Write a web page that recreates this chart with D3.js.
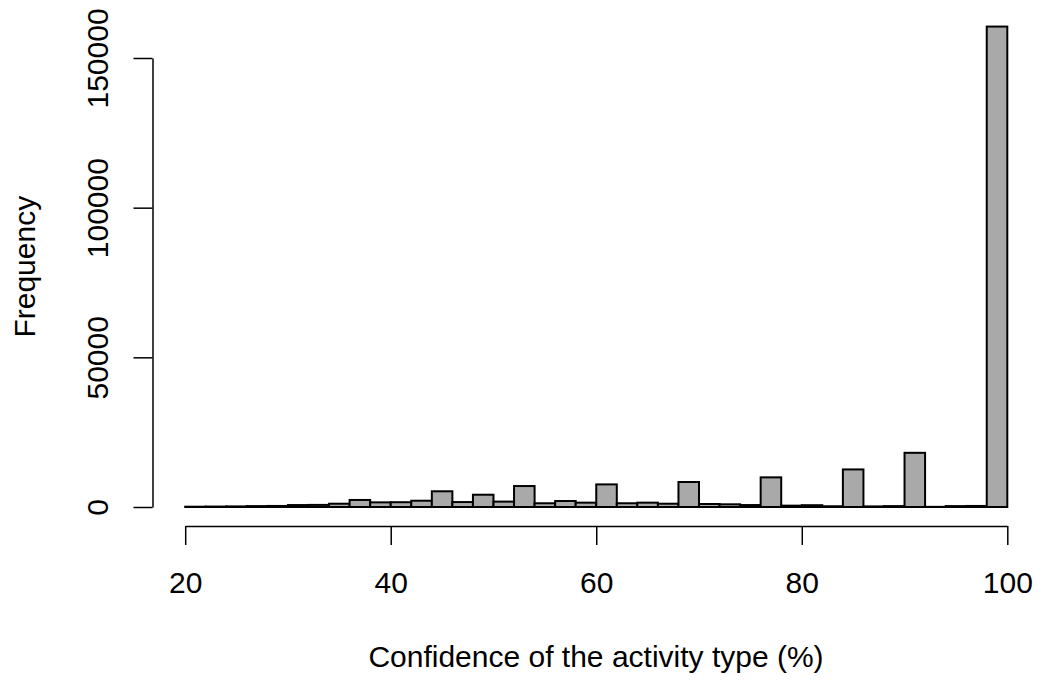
<!DOCTYPE html>
<html>
<head>
<meta charset="utf-8">
<script src="https://cdn.jsdelivr.net/npm/d3@7"></script>
<style>
  body { margin: 0; background: #fff; }
  svg { display: block; font-family: "Liberation Sans", Arial, sans-serif; }
</style>
</head>
<body>
<div id="viz"></div>
<script>
const width = 1043;
const height = 683;

// Histogram bins (left edge of each 2-point bin) and their counts
const binStarts = [20, 22, 24, 26, 28, 30, 32, 34, 36, 38,
                   40, 42, 44, 46, 48, 50, 52, 54, 56, 58,
                   60, 62, 64, 66, 68, 70, 72, 74, 76, 78,
                   80, 82, 84, 86, 88, 90, 92, 94, 96, 98];
const binWidth = 2;
const counts = [100, 150, 200, 300, 350, 650, 700, 1100, 2350, 1550,
                1600, 2100, 5250, 1650, 4100, 1800, 7000, 1250, 2000, 1450,
                7550, 1250, 1450, 1100, 8350, 1000, 900, 650, 9900, 450,
                600, 250, 12550, 200, 300, 18100, 50, 300, 350, 160500];

const xTicks = [20, 40, 60, 80, 100];
const yTicks = [0, 50000, 100000, 150000];
const xTitle = 'Confidence of the activity type (%)';
const yTitle = 'Frequency';

const bins = binStarts.map((x0, i) => ({ x0: x0, x1: x0 + binWidth, count: counts[i] }));

// Scales
const scaleX = d3.scaleLinear()
  .domain([20, 100])
  .range([185.2, 1007.3]);

const scaleY = d3.scaleLinear()
  .domain([0, 150000])
  .range([507, 58]);

const svg = d3.select('#viz')
  .append('svg')
    .attr('width', width)
    .attr('height', height);

// Bars
svg.append('g')
    .attr('class', 'bars')
  .selectAll('rect')
  .data(bins)
  .join('rect')
    .attr('x', d => scaleX(d.x0))
    .attr('y', d => scaleY(d.count))
    .attr('width', d => scaleX(d.x1) - scaleX(d.x0))
    .attr('height', d => scaleY(0) - scaleY(d.count))
    .attr('fill', '#a9a9a9')
    .attr('stroke', '#000')
    .attr('stroke-width', 2);

// X axis
const axisBottom = d3.axisBottom(scaleX)
  .tickValues(xTicks)
  .tickSize(19)
  .tickSizeOuter(0)
  .tickPadding(26.5)
  .tickFormat(d3.format('d'));
const xAxis = svg.append('g')
    .attr('transform', 'translate(0,526)')
  .call(axisBottom);

// Y axis
const axisLeft = d3.axisLeft(scaleY)
  .tickValues(yTicks)
  .tickSize(19)
  .tickSizeOuter(0)
  .tickFormat(d3.format('d'));
const yAxis = svg.append('g')
    .attr('transform', 'translate(152.5,0)')
  .call(axisLeft);

// R-style rotated y tick labels
yAxis.selectAll('.tick text')
    .attr('x', 0)
    .attr('y', -44.5)
    .attr('dy', 0)
    .attr('text-anchor', 'middle')
    .attr('transform', 'rotate(-90)');

[xAxis, yAxis].forEach(axis => {
  axis.attr('font-family', null).attr('font-size', null);
  axis.selectAll('text')
      .style('font-size', '30px')
      .attr('fill', '#000');
  axis.selectAll('path, line')
      .attr('stroke', '#000')
      .attr('stroke-width', 1.5);
});

// Axis titles
svg.append('text')
    .attr('x', 596)
    .attr('y', 666.5)
    .attr('text-anchor', 'middle')
    .style('font-size', '30px')
    .text(xTitle);

svg.append('text')
    .attr('transform', 'translate(35,266.7) rotate(-90)')
    .attr('text-anchor', 'middle')
    .style('font-size', '30px')
    .text(yTitle);
</script>
</body>
</html>
